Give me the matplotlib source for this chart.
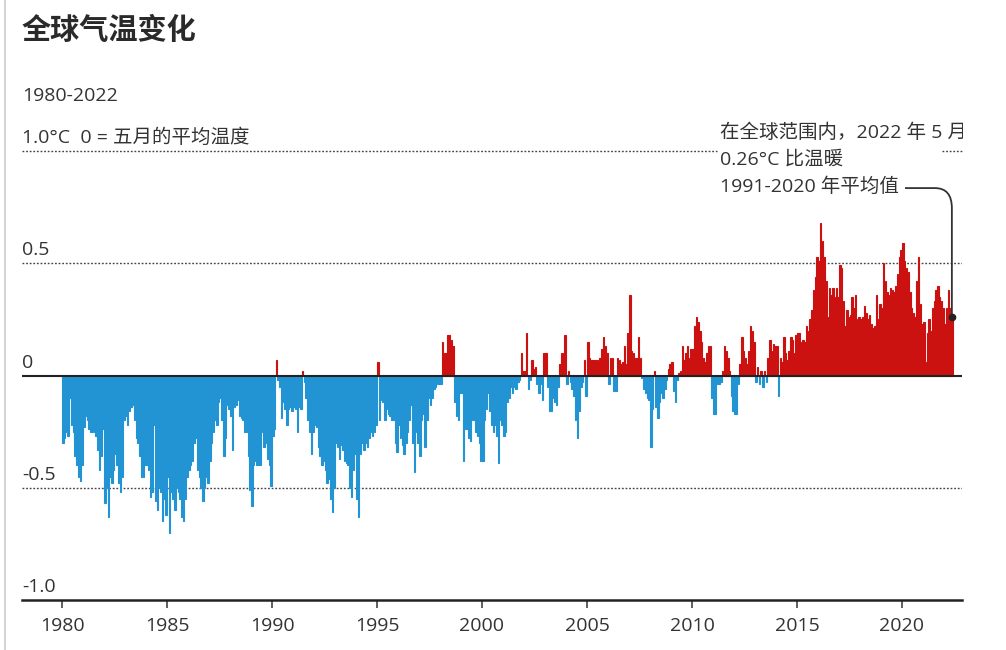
import matplotlib
matplotlib.use('Agg')
import matplotlib.pyplot as plt
import numpy as np
from matplotlib.path import Path
from matplotlib.patches import PathPatch
from matplotlib.lines import Line2D
from matplotlib.transforms import Bbox, TransformedBbox

plt.rcParams['font.family'] = ['Open Sans', 'Noto Sans CJK SC', 'DejaVu Sans']

# ---------------- data (monthly anomaly, °C, vs 1991-2020) ----------------
anom_1980s = [
    -0.30, -0.28, -0.25, -0.27, -0.10, -0.22, -0.25, -0.36, -0.40, -0.45, -0.47, -0.40,  # 1980
    -0.23, -0.18, -0.20, -0.24, -0.25, -0.25, -0.25, -0.27, -0.33, -0.42, -0.36, -0.24,  # 1981
    -0.57, -0.50, -0.63, -0.45, -0.48, -0.42, -0.35, -0.40, -0.48, -0.52, -0.45, -0.20,  # 1982
    -0.18, -0.22, -0.16, -0.14, -0.13, -0.20, -0.28, -0.30, -0.36, -0.45, -0.45, -0.40,  # 1983
    -0.40, -0.42, -0.54, -0.52, -0.22, -0.56, -0.60, -0.50, -0.52, -0.65, -0.55, -0.62,  # 1984
    -0.45, -0.70, -0.52, -0.55, -0.60, -0.50, -0.52, -0.55, -0.63, -0.65, -0.55, -0.45,  # 1985
    -0.42, -0.40, -0.38, -0.30, -0.28, -0.42, -0.45, -0.50, -0.56, -0.50, -0.45, -0.48,  # 1986
    -0.38, -0.30, -0.25, -0.20, -0.22, -0.12, -0.10, -0.20, -0.36, -0.28, -0.13, -0.15,  # 1987
    -0.18, -0.33, -0.14, -0.13, -0.11, -0.18, -0.19, -0.20, -0.25, -0.25, -0.36, -0.51,  # 1988
    -0.58, -0.40, -0.38, -0.40, -0.40, -0.40, -0.25, -0.32, -0.30, -0.37, -0.40, -0.49,  # 1989
]
anom_1990s = [
    -0.27, -0.24, 0.07, -0.02, -0.05, -0.19, -0.12, -0.15, -0.22, -0.15, -0.14, -0.16,   # 1990
    -0.14, -0.15, -0.25, -0.14, -0.15, 0.02, -0.03, -0.10, -0.20, -0.25, -0.35, -0.25,   # 1991
    -0.22, -0.23, -0.32, -0.36, -0.40, -0.38, -0.42, -0.48, -0.46, -0.55, -0.61, -0.50,  # 1992
    -0.30, -0.32, -0.37, -0.31, -0.33, -0.38, -0.39, -0.40, -0.50, -0.54, -0.42, -0.35,  # 1993
    -0.55, -0.63, -0.35, -0.30, -0.33, -0.30, -0.32, -0.28, -0.25, -0.27, -0.25, -0.22,  # 1994
    0.06, -0.20, -0.11, -0.12, -0.20, -0.15, -0.17, -0.18, -0.20, -0.20, -0.30, -0.34,   # 1995
    -0.22, -0.28, -0.31, -0.35, -0.30, -0.25, -0.20, -0.13, -0.30, -0.43, -0.25, -0.30,  # 1996
    -0.36, -0.20, -0.17, -0.32, -0.20, -0.10, -0.13, -0.10, -0.06, -0.05, -0.04, -0.04,  # 1997
    -0.04, 0.15, 0.10, 0.10, 0.18, 0.18, 0.16, 0.13, -0.12, -0.18, -0.20, -0.08,         # 1998
    -0.08, -0.38, -0.24, -0.24, -0.28, -0.29, -0.20, -0.20, -0.25, -0.27, -0.30, -0.38,  # 1999
]
anom_2000s = [
    -0.38, -0.20, -0.15, -0.08, -0.16, -0.22, -0.25, -0.22, -0.27, -0.39, -0.20, -0.22,  # 2000
    -0.27, -0.25, -0.12, -0.10, -0.05, -0.08, -0.05, -0.06, -0.03, -0.02, 0.10, 0.02,    # 2001
    0.02, 0.19, -0.06, -0.02, 0.07, 0.03, 0.04, -0.04, -0.08, -0.04, -0.11, 0.10,        # 2002
    0.10, -0.05, -0.16, -0.16, -0.10, -0.12, -0.13, -0.05, 0.05, 0.10, 0.10, 0.18,       # 2003
    -0.04, 0.02, -0.03, -0.06, -0.09, -0.20, -0.28, -0.16, -0.05, -0.03, 0.07, -0.09,    # 2004
    0.15, 0.08, 0.07, 0.07, 0.07, 0.07, 0.07, 0.08, 0.12, 0.17, 0.13, 0.10,              # 2005
    -0.04, 0.08, 0.08, -0.07, -0.07, 0.08, 0.07, 0.05, 0.06, 0.13, 0.05, 0.19,           # 2006
    0.36, 0.11, 0.10, 0.08, 0.08, 0.17, 0.08, -0.01, -0.06, -0.08, -0.10, -0.11,         # 2007
    -0.32, -0.15, 0.02, -0.14, -0.19, -0.12, -0.08, -0.10, -0.06, -0.02, 0.03, 0.05,     # 2008
    0.06, -0.07, -0.12, -0.02, 0.01, 0.02, 0.13, 0.07, 0.10, 0.13, 0.08, 0.12,           # 2009
]
anom_2010s = [
    0.12, 0.22, 0.26, 0.24, 0.20, 0.15, 0.08, 0.06, 0.10, 0.13, 0.13, -0.10,            # 2010
    -0.17, -0.17, -0.04, -0.04, -0.03, 0.02, 0.13, 0.11, 0.08, 0.02, -0.09, -0.16,       # 2011
    -0.17, -0.17, -0.04, 0.05, 0.17, 0.11, 0.08, 0.05, 0.11, 0.22, 0.20, 0.15,           # 2012
    -0.03, 0.04, -0.04, 0.02, -0.05, 0.02, -0.03, 0.08, 0.16, 0.11, 0.14, 0.13,          # 2013
    0.13, -0.09, 0.08, 0.06, 0.17, 0.10, 0.07, 0.11, 0.17, 0.16, 0.10, 0.18,             # 2014
    0.19, 0.19, 0.15, 0.16, 0.15, 0.22, 0.20, 0.25, 0.29, 0.38, 0.44, 0.53,              # 2015
    0.51, 0.68, 0.60, 0.53, 0.42, 0.26, 0.39, 0.36, 0.39, 0.35, 0.39, 0.35,              # 2016
    0.49, 0.48, 0.33, 0.22, 0.29, 0.26, 0.27, 0.35, 0.30, 0.36, 0.25, 0.26,              # 2017
    0.25, 0.26, 0.31, 0.28, 0.25, 0.27, 0.23, 0.21, 0.22, 0.36, 0.25, 0.32,              # 2018
    0.30, 0.50, 0.42, 0.37, 0.36, 0.39, 0.38, 0.37, 0.40, 0.45, 0.53, 0.56,              # 2019
]
anom_2020s = [
    0.59, 0.51, 0.48, 0.46, 0.37, 0.30, 0.28, 0.26, 0.42, 0.53, 0.32, 0.23,              # 2020
    0.24, 0.06, 0.19, 0.25, 0.20, 0.30, 0.33, 0.38, 0.40, 0.35, 0.33, 0.30,              # 2021
    0.23, 0.30, 0.38, 0.30, 0.26,                                                        # 2022 (Jan-May)
]

start_year = 1980
xtick_years = [1980, 1985, 1990, 1995, 2000, 2005, 2010, 2015, 2020]
level_values = [0.5, 0.0, -0.5, -1.0]
level_labels = ['0.5', '0', '-0.5', '-1.0']
title_text = '全球气温变化'
subtitle_text = '1980-2022'
unit_text = '1.0°C  0 = 五月的平均温度'
note_lines = ['在全球范围内，2022 年 5 月', '0.26°C 比温暖', '1991-2020 年平均值']

RED = '#cc1111'
BLUE = '#2294d3'
INK = '#333333'
FS = 14

vals = np.array(anom_1980s + anom_1990s + anom_2000s + anom_2010s + anom_2020s)
months = np.arange(len(vals))
xs = start_year + months / 12.0

W, H = 1006, 650
fig = plt.figure(figsize=(W / 100, H / 100), dpi=100)
fig.patch.set_facecolor('white')


def px2yr(px):
    return 1980 + (px - 62) / 21.0


# axes: x from px 22 to 962, y from px 151 (1.0) to 600 (-1.0)
ax = fig.add_axes([22 / W, (H - 600) / H, 940 / W, 449 / H])
ax.set_xlim(px2yr(22), px2yr(962))
ax.set_ylim(-1.0, 1.0)
ax.set_facecolor('none')

colors = np.where(vals >= 0, RED, BLUE)
ax.bar(xs, vals, width=1 / 12, align='edge', color=colors, edgecolor=colors,
       linewidth=0.8, zorder=2)

for s in ['left', 'right', 'top']:
    ax.spines[s].set_visible(False)
ax.spines['bottom'].set_linewidth(1.8)
ax.spines['bottom'].set_color('#222222')
ax.set_yticks([])
ax.set_xticks(xtick_years)
ax.set_xticklabels([str(y) for y in xtick_years])
ax.tick_params(axis='x', length=6, width=1.1, color=INK, labelsize=FS,
               labelcolor=INK, pad=6)

# reference lines
ax.axhline(0.0, color='#222222', lw=1.5, zorder=3)
dot = (0, (1.3, 1.3))
for v in (0.5, -0.5):
    ax.axhline(v, color='#444444', lw=1.0, ls=dot, zorder=1)
ax.hlines(1.0, px2yr(22), px2yr(717), color='#444444', lw=1.0, ls=dot, clip_on=False)
ax.hlines(1.0, px2yr(942), px2yr(962), color='#444444', lw=1.0, ls=dot, clip_on=False)

# left labels
for v, lab in zip(level_values, level_labels):
    ax.annotate(lab, xy=(0, v), xycoords=('axes fraction', 'data'), xytext=(0, 8),
                textcoords='offset pixels', va='baseline', ha='left',
                fontsize=FS, color=INK, annotation_clip=False)
ax.annotate(unit_text, xy=(0, 1.0), xycoords=('axes fraction', 'data'), xytext=(0, 8),
            textcoords='offset pixels', va='baseline', ha='left',
            fontsize=FS, color=INK, annotation_clip=False)

# title / subtitle
fig.text(22 / W, 1 - 30 / H, title_text, fontsize=21, fontweight='bold', color='#2a2a2a',
         va='center', ha='left', family=['Noto Sans CJK SC', 'DejaVu Sans'])
fig.text(22 / W, 1 - 96 / H, subtitle_text, fontsize=FS, color=INK, va='center', ha='left')

# note block
note_y_px = [133, 160, 187]
clip = TransformedBbox(Bbox([[0, 0], [963 / W, 1]]), fig.transFigure)
for line, ypx in zip(note_lines, note_y_px):
    t = ax.text(px2yr(720), (375 - ypx) / 224.0, line, fontsize=FS, color=INK,
                va='center', ha='left')
    t.set_clip_on(True)
    t.set_clip_box(clip)

# leader line to the last value
x_end = xs[-1] + 1 / 24
y_lead = (375 - 188) / 224.0
verts = [(px2yr(905), y_lead), (px2yr(935), y_lead), (x_end, y_lead),
         (x_end, y_lead - 0.09), (x_end, vals[-1])]
codes = [Path.MOVETO, Path.LINETO, Path.CURVE3, Path.CURVE3, Path.LINETO]
ax.add_patch(PathPatch(Path(verts, codes), fill=False, lw=1.3, edgecolor=INK,
                       clip_on=False, zorder=4))
ax.plot([x_end], [vals[-1]], 'o', ms=4.5, color='#222222', zorder=5, clip_on=False)

# faint left border of the graphic
fig.add_artist(Line2D([4.5 / W, 4.5 / W], [0, 1], transform=fig.transFigure,
                      color='#d5d5d5', lw=1.5))

fig.savefig('out.png', dpi=100, facecolor='white')
